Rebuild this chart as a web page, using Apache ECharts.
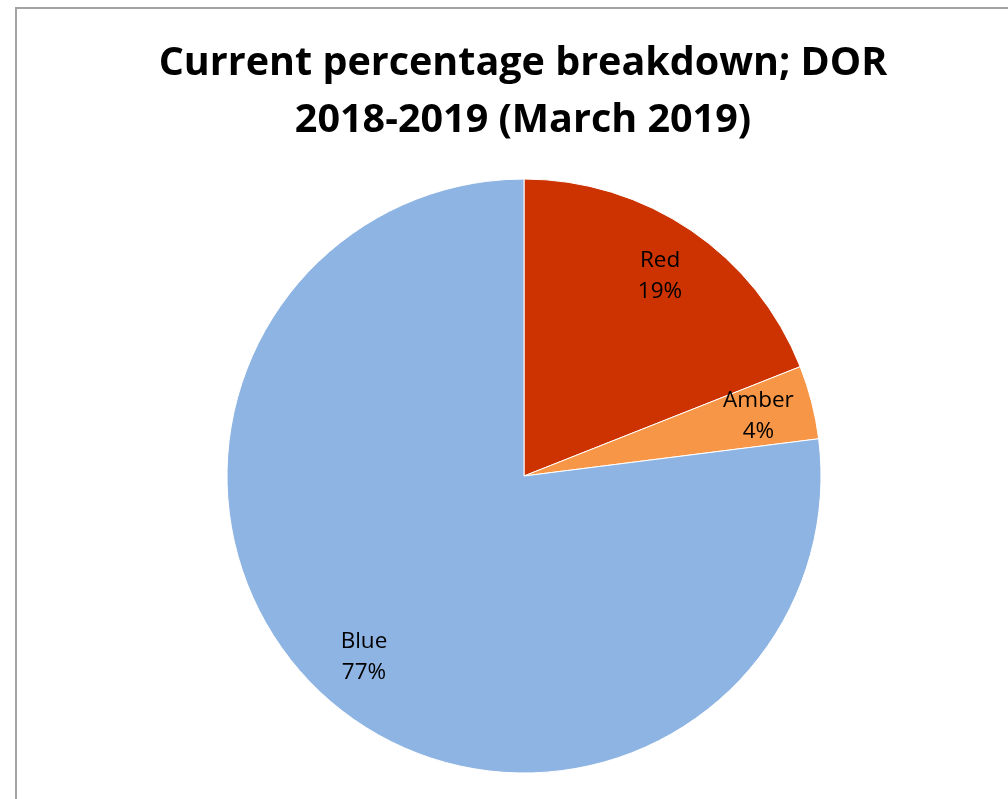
<!DOCTYPE html>
<html>
<head>
<meta charset="utf-8">
<title>Current percentage breakdown; DOR 2018-2019 (March 2019)</title>
<script src="https://cdn.jsdelivr.net/npm/echarts@6/dist/echarts.min.js"></script>
<style>
  html, body { margin: 0; padding: 0; background: #ffffff; }
  #chart { width: 1008px; height: 799px; }
</style>
</head>
<body>
<div id="chart"></div>
<script>
// RAG status breakdown (percent of total)
const categories = ['Red', 'Amber', 'Blue'];
const shares = [19, 4, 77];
const sliceColors = ['#CC3300', '#F79646', '#8EB4E3'];

const titleText = 'Current percentage breakdown; DOR\n2018-2019 (March 2019)';

const pieData = categories.map((name, i) => ({
  name: name,
  value: shares[i],
  itemStyle: { color: sliceColors[i] }
}));

const center = [524, 476];
const outerR = 297;

const chart = echarts.init(document.getElementById('chart'), null, { renderer: 'canvas' });
chart.setOption({
  backgroundColor: '#ffffff',
  animation: false,
  title: {
    text: titleText,
    left: 518,
    textAlign: 'center',
    top: 30,
    textStyle: {
      fontFamily: '"Open Sans", sans-serif',
      fontWeight: 'bold',
      fontSize: 39.5,
      lineHeight: 57,
      color: '#000000'
    }
  },
  graphic: [{
    type: 'rect',
    silent: true,
    shape: { x: 16, y: 8, width: 1100, height: 900 },
    style: { fill: 'none', stroke: '#a3a3a3', lineWidth: 2 }
  }],
  series: [
    {
      // the slices
      type: 'pie',
      center: center,
      radius: [0, outerR],
      startAngle: 90,
      clockwise: true,
      silent: true,
      label: { show: false },
      labelLine: { show: false },
      itemStyle: { borderColor: '#ffffff', borderWidth: 1 },
      data: pieData
    },
    {
      // transparent ring that carries the category / percent labels
      type: 'pie',
      center: center,
      radius: [181, outerR],
      startAngle: 90,
      clockwise: true,
      silent: true,
      itemStyle: { color: 'rgba(0,0,0,0)', borderWidth: 0 },
      label: {
        show: true,
        position: 'inside',
        formatter: '{b}\n{d}%',
        fontFamily: '"Open Sans", sans-serif',
        fontSize: 22.5,
        lineHeight: 31,
        color: '#000000',
        align: 'center'
      },
      labelLine: { show: false },
      data: categories.map((name, i) => ({ name: name, value: shares[i] }))
    }
  ]
});
</script>
</body>
</html>
